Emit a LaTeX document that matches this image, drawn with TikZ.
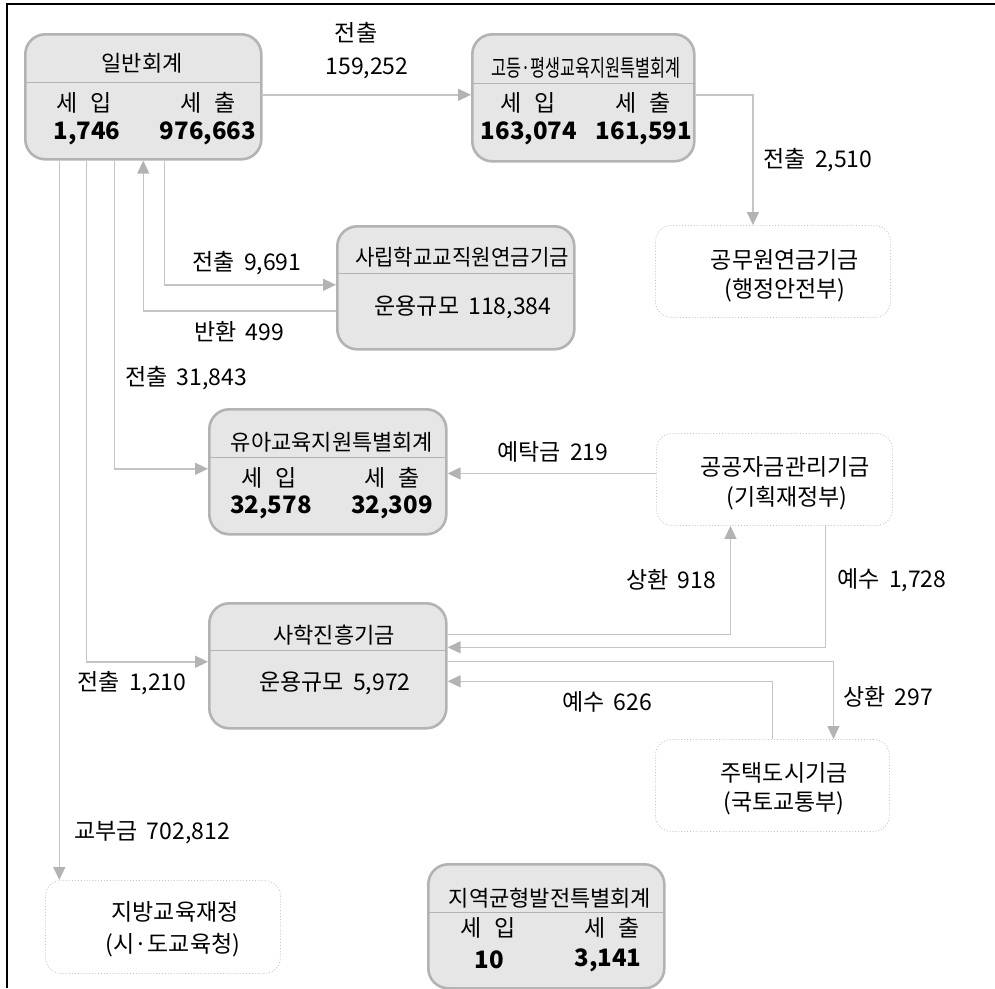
\documentclass[tikz,border=0pt]{standalone}
\usepackage{fontspec}
\setmainfont{Noto Sans CJK KR}
\usetikzlibrary{arrows.meta}
\definecolor{boxfill}{HTML}{E6E6E6}
\definecolor{boxline}{HTML}{B3B3B3}
\definecolor{connc}{HTML}{C4C4C4}
\definecolor{tipc}{HTML}{B3B3B3}
\definecolor{dotc}{HTML}{C4C4C4}
\begin{document}
\begin{tikzpicture}[x=1pt,y=-1pt,
  fund/.style={draw=boxline, fill=boxfill, line width=2.6pt, rounded corners=20pt, inner sep=0pt, anchor=north west},
  agency/.style={draw=dotc, dotted, line width=0.9pt, rounded corners=16pt, fill=white, inner sep=0pt, anchor=north west},
  divline/.style={draw=boxline, line width=1pt},
  conn/.style={draw=connc, line width=1.4pt},
  arr/.style={conn, -{Triangle[length=13pt,width=12pt,color=tipc]}},
  ttl/.style={font=\fontsize{22}{26}\selectfont, inner sep=0pt},
  hd/.style={font=\fontsize{23}{27}\selectfont, inner sep=0pt},
  num/.style={font=\fontsize{24}{28}\selectfont\bfseries, inner sep=0pt},
  lbl/.style={font=\fontsize{23}{27}\selectfont, inner sep=0pt},
]
\useasboundingbox (0,0) rectangle (995,988);
% frame
\draw[line width=2pt] (7,988) -- (7,4) -- (995,4);

% ---- boxes ----
\node[fund, minimum width=236pt, minimum height=125pt] (gen) at (24,33) {};
\draw[divline] (24,82) -- (260,82);
\node[fund, minimum width=222pt, minimum height=127pt] (high) at (471,33) {};
\draw[divline] (471,83) -- (693,83);
\node[agency, minimum width=235pt, minimum height=92pt] (pen) at (655,225) {};
\node[fund, minimum width=237pt, minimum height=123pt] (sts) at (336,225) {};
\draw[divline] (336,273) -- (573,273);
\node[fund, minimum width=237pt, minimum height=125pt] (kin) at (208,408) {};
\draw[divline] (208,457) -- (445,457);
\node[agency, minimum width=236pt, minimum height=92pt] (pf) at (656,433) {};
\node[fund, minimum width=237pt, minimum height=125pt] (sh) at (208,602) {};
\draw[divline] (208,650) -- (445,650);
\node[agency, minimum width=234pt, minimum height=92pt] (house) at (655,739) {};
\node[agency, minimum width=235pt, minimum height=93pt] (local) at (45,880) {};
\node[fund, minimum width=236pt, minimum height=124pt] (reg) at (427,863) {};
\draw[divline] (427,912) -- (663,912);

% ---- box texts ----
\node[ttl] (genT) at (142,63) {일반회계};
\node[hd] (genI) at (84,103) {세\hspace{0.55em}입};
\node[hd] (genO) at (208,103) {세\hspace{0.55em}출};
\node[num] (genIv) at (87,133) {1,746};
\node[num] (genOv) at (208,133) {976,663};

\node[ttl] (highT) at (586,68) {\scalebox{0.74}[1.05]{고등·평생교육지원특별회계}};
\node[hd] (highI) at (528,103) {세\hspace{0.55em}입};
\node[hd] (highO) at (643,103) {세\hspace{0.55em}출};
\node[num] (highIv) at (529,133) {163,074};
\node[num] (highOv) at (644,133) {161,591};

\node[ttl] (stsT) at (462,257) {\scalebox{0.96}[1]{사립학교교직원연금기금}};
\node[lbl] (stsV) at (463,307) {운용규모\hspace{0.4em}118,384};

\node[ttl] (kinT) at (332,442) {유아교육지원특별회계};
\node[hd] (kinI) at (269,478) {세\hspace{0.55em}입};
\node[hd] (kinO) at (392,478) {세\hspace{0.55em}출};
\node[num] (kinIv) at (271,507) {32,578};
\node[num] (kinOv) at (392,507) {32,309};

\node[ttl] (shT) at (334,635) {사학진흥기금};
\node[lbl] (shV) at (335,683) {운용규모\hspace{0.4em}5,972};

\node[ttl] (regT) at (550,898) {지역균형발전특별회계};
\node[hd] (regI) at (488,928) {세\hspace{0.55em}입};
\node[hd] (regO) at (612,928) {세\hspace{0.55em}출};
\node[num] (regIv) at (489,960) {10};
\node[num] (regOv) at (608,960) {3,141};

\node[lbl] (penA) at (785,260) {공무원연금기금};
\node[lbl] (penB) at (785,290) {(행정안전부)};
\node[lbl] (pfA) at (785,467) {공공자금관리기금};
\node[lbl] (pfB) at (787,498) {(기획재정부)};
\node[lbl] (houseA) at (784,773) {주택도시기금};
\node[lbl] (houseB) at (784,803) {(국토교통부)};
\node[lbl] (localA) at (175,912) {지방교육재정};
\node[lbl] (localB) at (173,945) {(시·도교육청)};

% ---- connectors ----
\draw[arr] ([yshift=2pt]gen.east) -- ([yshift=2pt]gen.east -| high.west);
\draw[arr] ([yshift=3pt]high.east) -| ([xshift=-20pt]pen.north);
\draw[arr] ([xshift=21pt]gen.south) |- ([yshift=3pt]sts.west);
\draw[arr] ([yshift=-23pt]sts.west) -| (gen.south);
\draw[arr] ([xshift=-29pt]gen.south) |- ([yshift=3pt]kin.west);
\draw[arr] ([xshift=-57pt]gen.south) |- ([yshift=4pt]sh.west);
\draw[arr] ([xshift=-84pt]gen.south) -- ([xshift=-84pt]gen.south |- local.north);
\draw[arr] ([yshift=6pt]pf.west) -- ([yshift=6pt]pf.west -| kin.east);
\draw[arr] ([yshift=31.5pt]sh.east) -| ([xshift=-44pt]pf.south);
\draw[arr] ([xshift=51pt]pf.south) |- ([yshift=18.5pt]sh.east);
\draw[arr] ([yshift=4.5pt]sh.east) -| ([xshift=61pt]house.north);
\draw[arr] (house.north) |- ([yshift=-15.5pt]sh.east);

% ---- connector labels ----
\node[lbl] (l1a) at (356,33) {전출};
\node[lbl] (l1b) at (367,68) {159,252};
\node[lbl] (l2) at (818,160) {전출\hspace{0.4em}2,510};
\node[lbl] (l3) at (247,263) {전출\hspace{0.4em}9,691};
\node[lbl] (l4) at (239,332) {반환\hspace{0.4em}499};
\node[lbl] (l5) at (186,378) {전출\hspace{0.4em}31,843};
\node[lbl] (l6) at (553,452) {예탁금\hspace{0.4em}219};
\node[lbl] (l7) at (671,580) {상환\hspace{0.4em}918};
\node[lbl] (l8) at (892,580) {예수\hspace{0.4em}1,728};
\node[lbl] (l9) at (132,683) {전출\hspace{0.4em}1,210};
\node[lbl] (l10) at (607,702) {예수\hspace{0.4em}626};
\node[lbl] (l11) at (888,697) {상환\hspace{0.4em}297};
\node[lbl] (l12) at (152,833) {교부금\hspace{0.4em}702,812};
\end{tikzpicture}
\end{document}
